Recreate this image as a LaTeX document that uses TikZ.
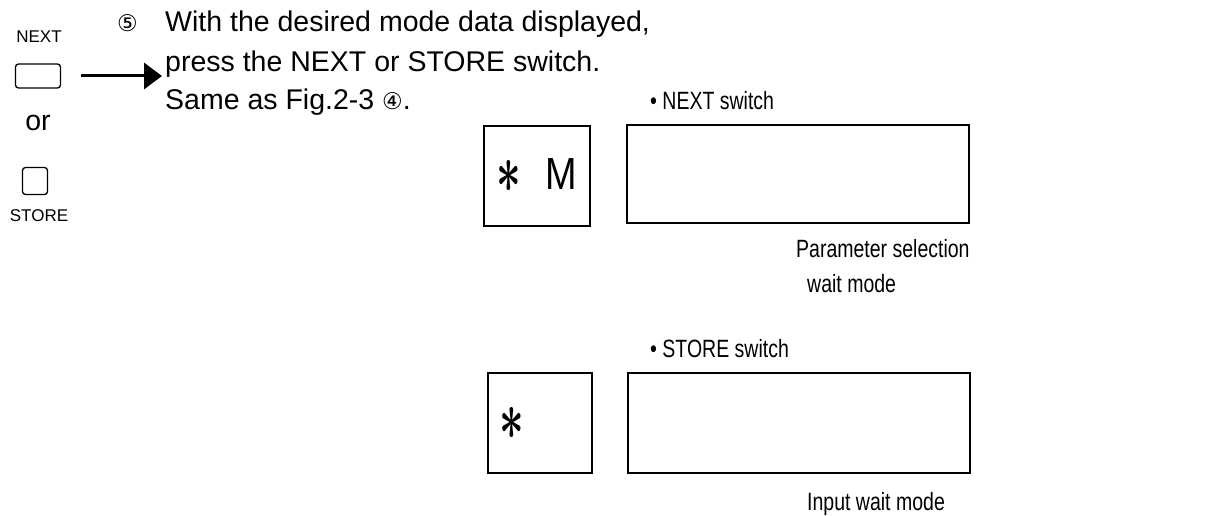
\documentclass[tikz,border=0pt]{standalone}
\usepackage{graphicx}
\usepackage{fontspec}
\setmainfont{Liberation Sans}
\newfontfamily\narrowfont{Liberation Sans}[FakeStretch=0.78]
\newfontfamily\symfont{DejaVu Sans}
\usetikzlibrary{arrows.meta,positioning}
\newcommand{\circnum}[1]{{\symfont\fontsize{23}{26}\selectfont #1}}
\newcommand{\lcdstar}{\raisebox{-3pt}{\scalebox{4.3}[6.8]{\fontsize{10}{12}\selectfont\boldmath$\ast$}}}
\newcommand{\lcdchar}[1]{\scalebox{0.84}[1]{\fontsize{45}{45}\selectfont #1}}

\begin{document}
\begin{tikzpicture}[x=1pt, y=-1pt,
  txt/.style={anchor=base west, inner sep=0pt, font=\fontsize{28.5}{32}\selectfont},
  note/.style={anchor=base west, inner sep=0pt, font=\narrowfont\fontsize{25}{30}\selectfont},
  keylbl/.style={anchor=base, inner sep=0pt, font=\fontsize{17}{19}\selectfont},
  keybtn/.style={draw, line width=1.3pt, rounded corners=3pt, inner sep=0pt},
  lcd/.style={draw, line width=1.3pt, inner sep=0pt},
  push/.style={-{Triangle[length=18pt, width=26pt]}, line width=3pt}]
\useasboundingbox (0,0) rectangle (1214,516);
% the two switches, NEXT above and STORE below
\node[keylbl] (nextlbl) at (39,43) {NEXT};
\node[keybtn, minimum width=45pt, minimum height=24pt] (nextkey) at (38,76) {};
\node[txt, anchor=base] (orlbl) at (38,130) {or};
\node[keybtn, minimum width=25pt, minimum height=27pt] (storekey) at (35,181) {};
\node[keylbl] (storelbl) at (39,221) {STORE};
% step text
\node[txt] (num5) at (117,32) {\circnum{⑤}};
\node[txt] (line1) at (165,32) {With the desired mode data displayed,};
\node[txt] (line2) at (165,72) {press the NEXT or STORE switch.};
\node[txt] (line3) at (165,110) {Same as Fig.2-3 \circnum{④}.};
\draw[push] ([xshift=20pt]nextkey.east) -- ([xshift=-3pt]nextkey.east -| line2.west);
% NEXT switch: display
\node[note] (nexthead) at (650,110) {\textbullet\ NEXT switch};
\node[lcd, minimum width=106pt, minimum height=100pt] (dispM) at (537,176) {\lcdstar\hspace{24pt}\lcdchar{M}};
\node[lcd, minimum width=342pt, minimum height=98pt] (dispN) at (798,174) {};
\node[note] (parsel) at (796,257) {Parameter selection};
\node[note] (parwait) at (807,292) {wait mode};
% STORE switch: display
\node[note] (storehead) at (650,357) {\textbullet\ STORE switch};
\node[lcd, minimum width=104pt, minimum height=100pt] (dispA) at (540,423) {\lcdstar\hspace{24pt}\phantom{\lcdchar{M}}};
\node[lcd, minimum width=342pt, minimum height=100pt] (dispS) at (799,423) {};
\node[note] (inwait) at (807,510) {Input wait mode};
\end{tikzpicture}
\end{document}
